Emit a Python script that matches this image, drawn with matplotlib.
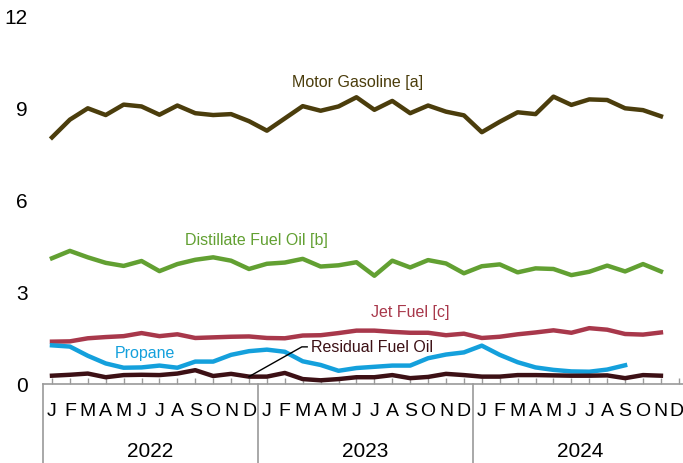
import numpy as np
import matplotlib
matplotlib.use('agg')
import matplotlib.pyplot as plt
import matplotlib.transforms as mtransforms

plt.rcParams['font.family'] = ['Liberation Sans', 'DejaVu Sans']

# monthly values, Jan 2022 .. Nov 2024 (propane ends Sep 2024)
months = ["J", "F", "M", "A", "M", "J", "J", "A", "S", "O", "N", "D"]
years = ["2022", "2023", "2024"]

motor_gasoline = [8.04, 8.62, 8.99, 8.77, 9.11, 9.05, 8.78, 9.08, 8.83, 8.77, 8.80, 8.57,
                  8.26, 8.66, 9.06, 8.91, 9.05, 9.35, 8.94, 9.23, 8.83, 9.08, 8.88, 8.76,
                  8.21, 8.55, 8.86, 8.80, 9.37, 9.10, 9.28, 9.26, 8.99, 8.93, 8.73]
distillate = [4.10, 4.34, 4.13, 3.95, 3.85, 4.01, 3.68, 3.91, 4.05, 4.13, 4.02, 3.75,
              3.92, 3.96, 4.08, 3.83, 3.87, 3.97, 3.53, 4.02, 3.80, 4.04, 3.93, 3.61,
              3.84, 3.90, 3.64, 3.77, 3.75, 3.55, 3.66, 3.86, 3.67, 3.91, 3.67]
jet_fuel = [1.38, 1.39, 1.49, 1.53, 1.56, 1.66, 1.56, 1.62, 1.50, 1.52, 1.54, 1.55,
            1.50, 1.49, 1.58, 1.59, 1.66, 1.74, 1.74, 1.70, 1.67, 1.67, 1.59, 1.64,
            1.50, 1.54, 1.62, 1.68, 1.75, 1.67, 1.82, 1.77, 1.63, 1.61, 1.68]
propane = [1.26, 1.22, 0.92, 0.67, 0.53, 0.54, 0.60, 0.53, 0.73, 0.73, 0.95, 1.07,
           1.12, 1.05, 0.74, 0.62, 0.43, 0.52, 0.56, 0.60, 0.60, 0.84, 0.96, 1.03,
           1.25, 0.95, 0.71, 0.54, 0.46, 0.41, 0.40, 0.47, 0.61]
residual = [0.27, 0.30, 0.34, 0.22, 0.29, 0.30, 0.29, 0.34, 0.45, 0.26, 0.33, 0.24,
            0.24, 0.36, 0.16, 0.12, 0.16, 0.22, 0.22, 0.29, 0.19, 0.23, 0.33, 0.29,
            0.24, 0.24, 0.29, 0.29, 0.28, 0.27, 0.27, 0.28, 0.19, 0.29, 0.27]

c_gas = '#4b3d0c'
c_dist = '#62a032'
c_jet = '#a8384b'
c_prop = '#14a0dc'
c_resid = '#3c1015'

fig = plt.figure(figsize=(6.83, 4.64), dpi=100)
ax = fig.add_axes([0.063, 0.1703, 0.944, 0.7931])

ax.plot(np.arange(len(motor_gasoline)), motor_gasoline, color=c_gas, lw=3.2)
ax.plot(np.arange(len(distillate)), distillate, color=c_dist, lw=3.2)
ax.plot(np.arange(len(jet_fuel)), jet_fuel, color=c_jet, lw=3.2)
ax.plot(np.arange(len(propane)), propane, color=c_prop, lw=3.2)
ax.plot(np.arange(len(residual)), residual, color=c_resid, lw=3.2)

ax.set_xlim(-0.5, 35.5)
ax.set_ylim(0, 12)
ax.set_yticks([0, 3, 6, 9, 12])
ax.tick_params(axis='y', length=0, pad=11, labelsize=15)
for s in ['top', 'right', 'left']:
    ax.spines[s].set_visible(False)
ax.spines['bottom'].set_color('#9a9a9a')
ax.spines['bottom'].set_linewidth(1.2)

nm = 12 * len(years)
ax.set_xticks(np.arange(nm))
ax.set_xticklabels(months * len(years))
ax.tick_params(axis='x', direction='in', length=4, color='#9a9a9a', width=1,
               labelsize=14, pad=13)
# keep the last "D" inside the picture
last = ax.get_xticklabels()[-1]
last.set_horizontalalignment('right')
last.set_transform(last.get_transform() + mtransforms.ScaledTranslation(5 / 100, 0, fig.dpi_scale_trans))

# year separators and year labels
trans = mtransforms.blended_transform_factory(ax.transData, ax.transAxes)
for k in range(len(years) + 1):
    xb = 12 * k - 0.5
    ax.plot([xb, xb], [0, -0.3], color='#9a9a9a', lw=1.2, transform=trans, clip_on=False)
for k, yr in enumerate(years):
    ax.text(12 * k + 5.5, -0.182, yr, transform=trans, ha='center', va='center', fontsize=15)

# series labels
lab = dict(fontsize=11.5, va='center')
ax.text(17.07, 9.85, "Motor Gasoline [a]", color=c_gas, ha='center', **lab)
ax.text(11.4, 4.70, "Distillate Fuel Oil [b]", color=c_dist, ha='center', **lab)
ax.text(20.0, 2.35, "Jet Fuel [c]", color=c_jet, ha='center', **lab)
ax.text(5.2, 1.04, "Propane", color=c_prop, ha='center', **lab)
ax.text(14.45, 1.21, "Residual Fuel Oil", color=c_resid, ha='left', **lab)
ax.plot([11, 13.95, 14.25], [residual[11], 1.21, 1.21], color='black', lw=1)

fig.savefig('out.png', dpi=100)
